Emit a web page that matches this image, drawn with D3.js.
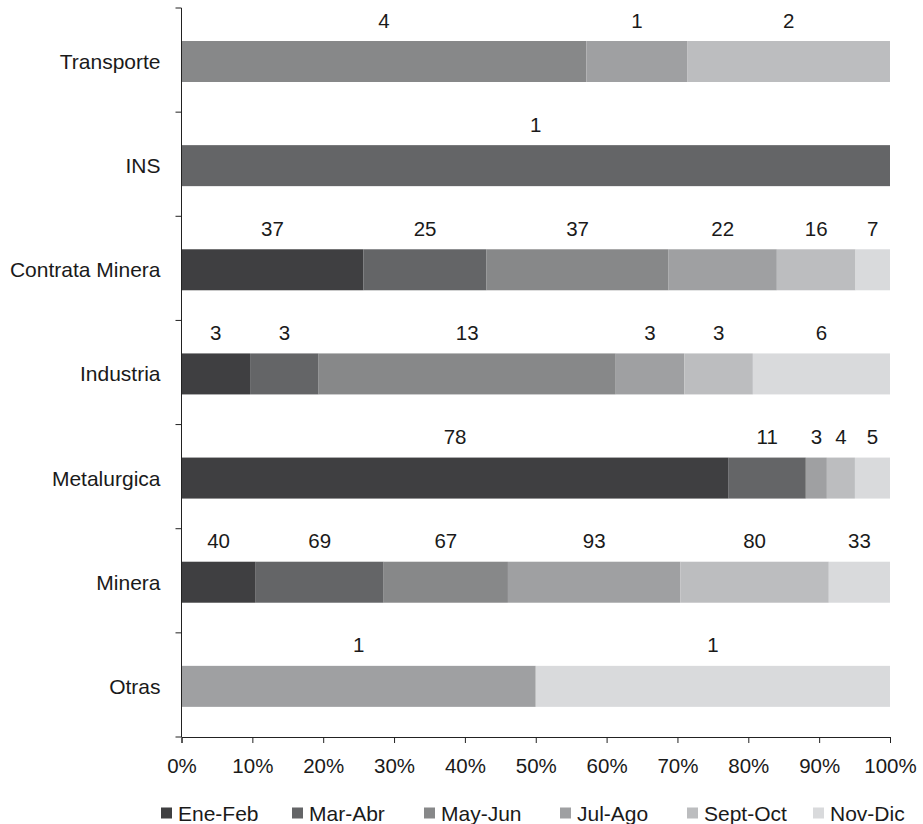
<!DOCTYPE html>
<html>
<head>
<meta charset="utf-8">
<script src="https://cdn.jsdelivr.net/npm/d3@7"></script>
<style>
  body { margin: 0; background: #fff; }
  text { font-family: "Liberation Sans", Arial, sans-serif; fill: #1a1a1a; }
</style>
</head>
<body>
<div id="chart"></div>
<script>
var categories = ["Transporte", "INS", "Contrata Minera", "Industria", "Metalurgica", "Minera", "Otras"];
var periods = ["Ene-Feb", "Mar-Abr", "May-Jun", "Jul-Ago", "Sept-Oct", "Nov-Dic"];
var colors = ["#3f3f41", "#646567", "#878889", "#9fa0a2", "#bcbdbf", "#d9dadc"];

// counts per period, one array per category (0 = none)
var transporte = [0, 0, 4, 1, 2, 0];
var ins        = [0, 1, 0, 0, 0, 0];
var contrata   = [37, 25, 37, 22, 16, 7];
var industria  = [3, 3, 13, 3, 3, 6];
var metalurgica = [78, 11, 0, 3, 4, 5];
var minera     = [40, 69, 67, 93, 80, 33];
var otras      = [0, 0, 0, 1, 0, 1];

var ticks = [0, 0.1, 0.2, 0.3, 0.4, 0.5, 0.6, 0.7, 0.8, 0.9, 1];

var counts = [transporte, ins, contrata, industria, metalurgica, minera, otras];
var data = categories.map(function(c, i) {
    var row = {cat: c};
    periods.forEach(function(p, j) { row[p] = counts[i][j]; });
    return row;
});

var W = 923, H = 824;
var m = {left: 181.5, right: 890, top: 8, bottom: 737};

var svg = d3.select("#chart").append("svg")
    .attr("width", W)
    .attr("height", H);

var x = d3.scaleLinear().domain([0, 1]).range([m.left, m.right]);
var y = d3.scaleBand().domain(categories).range([m.top, m.bottom]);

var series = d3.stack().keys(periods).offset(d3.stackOffsetExpand)(data);

var barOff = 33, barH = 41;

var groups = svg.selectAll(".serie")
    .data(series)
    .enter().append("g")
        .attr("class", "serie")
        .attr("fill", function(d, i) { return colors[i]; });

groups.selectAll("rect")
    .data(function(d) { return d; })
    .enter().append("rect")
        .attr("x", function(d) { return x(d[0]); })
        .attr("y", function(d) { return y(d.data.cat) + barOff; })
        .attr("width", function(d) { return x(d[1]) - x(d[0]); })
        .attr("height", barH);

// value labels above each segment
series.forEach(function(s) {
    svg.selectAll(null)
        .data(s.filter(function(d) { return d.data[s.key] > 0; }))
        .enter().append("text")
            .attr("x", function(d) { return x((d[0] + d[1]) / 2); })
            .attr("y", function(d) { return y(d.data.cat) + barOff - 21; })
            .attr("text-anchor", "middle")
            .attr("dominant-baseline", "central")
            .style("font-size", "20.5px")
            .text(function(d) { return d.data[s.key]; });
});

// x axis
var xAxis = svg.append("g")
    .attr("transform", "translate(0," + m.bottom + ")")
    .call(d3.axisBottom(x).tickValues(ticks).tickFormat(d3.format(".0%")).tickSizeOuter(0).tickSize(6));
xAxis.select(".domain").attr("stroke", "#222");
xAxis.selectAll(".tick line").attr("stroke", "#222");
xAxis.selectAll("text")
    .attr("y", 21)
    .style("font-size", "20.5px")
    .attr("fill", "#1a1a1a");

// y axis: line plus ticks at band boundaries
svg.append("line")
    .attr("x1", m.left).attr("x2", m.left)
    .attr("y1", m.top).attr("y2", m.bottom)
    .attr("stroke", "#222");
svg.selectAll(".ytick")
    .data(d3.range(categories.length + 1))
    .enter().append("line")
        .attr("x1", m.left - 6).attr("x2", m.left)
        .attr("y1", function(i) { return m.top + i * y.step(); })
        .attr("y2", function(i) { return m.top + i * y.step(); })
        .attr("stroke", "#222");
svg.selectAll(".ylabel")
    .data(categories)
    .enter().append("text")
        .attr("x", m.left - 21)
        .attr("y", function(d) { return y(d) + barOff + barH / 2; })
        .attr("text-anchor", "end")
        .attr("dominant-baseline", "central")
        .style("font-size", "21px")
        .text(function(d) { return d; });

// legend
var legendX = [161, 292, 424, 560, 687, 813];
var legend = svg.selectAll(".legend")
    .data(periods)
    .enter().append("g")
        .attr("transform", function(d, i) { return "translate(" + legendX[i] + ",813)"; });
legend.append("rect")
    .attr("x", 0).attr("y", -5.5)
    .attr("width", 11).attr("height", 11)
    .attr("fill", function(d, i) { return colors[i]; });
legend.append("text")
    .attr("x", 17)
    .attr("dominant-baseline", "central")
    .style("font-size", "21px")
    .text(function(d) { return d; });
</script>
</body>
</html>
